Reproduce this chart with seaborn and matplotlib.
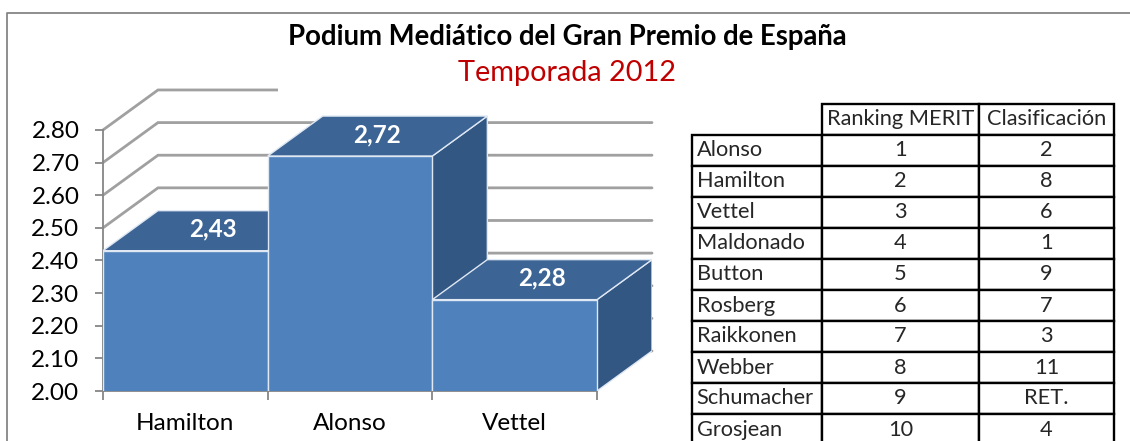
import matplotlib
matplotlib.use("Agg")
import matplotlib.pyplot as plt
from matplotlib.patches import Polygon, Rectangle
from matplotlib.lines import Line2D
import pandas as pd
import seaborn as sns

# -------------------------------
# Datos
# -------------------------------
pilotos = ["Hamilton", "Alonso", "Vettel"]
valores = [2.43, 2.72, 2.28]
y_ticks = [2.00, 2.10, 2.20, 2.30, 2.40, 2.50, 2.60, 2.70, 2.80]

tabla_pilotos = ["Alonso", "Hamilton", "Vettel", "Maldonado", "Button",
                 "Rosberg", "Raikkonen", "Webber", "Schumacher", "Grosjean"]
ranking_merit = ["1", "2", "3", "4", "5", "6", "7", "8", "9", "10"]
clasificacion = ["2", "8", "6", "1", "9", "7", "3", "11", "RET.", "4"]
columnas = ["", "Ranking MERIT", "Clasificación"]

titulo = "Podium Mediático del Gran Premio de España"
subtitulo = "Temporada 2012"

# colores estilo Excel
C_FRONT = "#4f81bd"
C_TOP = "#3c6494"
C_SIDE = "#335783"
C_EDGE = "#dfe8f3"
C_GRID = "#a0a0a0"
C_AXIS = "#868686"

# profundidad del efecto 3D (en unidades de datos)
DX, DY = 0.334, 0.1226

sns.set_theme(style="white")
plt.rcParams["font.family"] = ["Lato", "DejaVu Sans"]

W, H = 1130, 441
fig = plt.figure(figsize=(W / 100, H / 100), dpi=100)


def caja(x0, y0, x1, y1):
    # caja en pixeles -> coordenadas de figura
    return [x0 / W, 1 - y1 / H, (x1 - x0) / W, (y1 - y0) / H]


# -------------------------------
# Grafico de barras
# -------------------------------
ax = fig.add_axes(caja(103, 88, 652, 391))
df = pd.DataFrame({"piloto": pilotos, "valor": valores})
sns.barplot(data=df, x="piloto", y="valor", color=C_FRONT, saturation=1,
            width=1.0, edgecolor=C_EDGE, linewidth=1.0, ax=ax)

y0 = y_ticks[0]
ax.set_xlim(-0.5, len(pilotos) - 0.5 + DX)
ax.set_ylim(y0, y_ticks[-1] + DY + 0.006)

# caras frontales encima de las laterales de la barra anterior
for i, p in enumerate(ax.patches):
    p.set_zorder(5 + 3 * i)

# paredes: lineas de cuadricula
for v in y_ticks:
    ax.plot([-0.5, -0.5 + DX, len(pilotos) - 0.5 + DX], [v, v + DY, v + DY],
            color=C_GRID, lw=2.0, zorder=1, clip_on=False,
            solid_joinstyle="miter")

# caras superiores y laterales
for i, v in enumerate(valores):
    top = Polygon([(i - 0.5, v), (i + 0.5, v), (i + 0.5 + DX, v + DY),
                   (i - 0.5 + DX, v + DY)], closed=True, fc=C_TOP,
                  ec=C_EDGE, lw=1.0, zorder=3 + 3 * i)
    side = Polygon([(i + 0.5, y0), (i + 0.5, v), (i + 0.5 + DX, v + DY),
                    (i + 0.5 + DX, y0 + DY)], closed=True, fc=C_SIDE,
                   ec=C_EDGE, lw=1.0, zorder=3 + 3 * i)
    ax.add_patch(side)
    ax.add_patch(top)
    ax.text(i + DX / 2, v + DY / 2 + 0.005, f"{v:.2f}".replace(".", ","),
            color="white", fontweight="bold", fontsize=17.5,
            ha="center", va="center", zorder=30)

for s in ["top", "right"]:
    ax.spines[s].set_visible(False)
ax.spines["left"].set_bounds(y0, y_ticks[-1])
ax.spines["bottom"].set_bounds(-0.5, len(pilotos) - 0.5)
for s in ["left", "bottom"]:
    ax.spines[s].set_color(C_AXIS)
    ax.spines[s].set_linewidth(1.3)

ax.set_yticks(y_ticks)
ax.set_yticklabels([f"{v:.2f}" for v in y_ticks])
ax.set_xticks([i - 0.5 for i in range(len(pilotos) + 1)])
ax.set_xticklabels([])
ax.set_xticks(range(len(pilotos)), minor=True)
ax.set_xticklabels(pilotos, minor=True)
ax.tick_params(axis="y", left=True, length=6, width=1.3, color=C_AXIS,
               pad=11, labelsize=17.5, labelcolor="black")
ax.tick_params(axis="x", which="major", bottom=True, length=6.5, width=1.3,
               color=C_AXIS)
ax.tick_params(axis="x", which="minor", bottom=True, length=0, pad=16,
               labelsize=17.5, labelcolor="black")
ax.set_xlabel("")
ax.set_ylabel("")
ax.patch.set_alpha(0)

# -------------------------------
# Titulo y marco
# -------------------------------
fig.add_artist(Rectangle((278 / W, 1 - 97 / H), (860 - 278) / W, (97 - 15) / H,
                         transform=fig.transFigure, fc="white", ec="none",
                         zorder=5))
fig.text(567 / W, 1 - 37 / H, titulo, ha="center", va="center",
         fontsize=19.8, fontweight="bold", color="black", zorder=6)
fig.text(567 / W, 1 - 73 / H, subtitulo, ha="center", va="center",
         fontsize=20.8, color="#c00000", zorder=6)
fig.add_artist(Line2D([6.5 / W, 6.5 / W, 1.0], [0.0, 1 - 12.5 / H, 1 - 12.5 / H],
                      transform=fig.transFigure, color=C_AXIS, lw=1.3))

# -------------------------------
# Tabla
# -------------------------------
ax_t = fig.add_axes(caja(692, 104, 1114, 445))
ax_t.axis("off")
filas = [[n, r, c] for n, r, c in zip(tabla_pilotos, ranking_merit, clasificacion)]
tab = ax_t.table(cellText=filas, colLabels=columnas, cellLoc="center",
                 colWidths=[130 / 422, 157 / 422, 135 / 422], bbox=[0, 0, 1, 1])
tab.auto_set_font_size(False)
tab.set_fontsize(15.7)
for (r, c), cell in tab.get_celld().items():
    cell.set_edgecolor("black")
    cell.set_linewidth(1.7)
    cell.set_facecolor("white")
    if r == 0 and c == 0:
        cell.visible_edges = ""
    if c == 0 and r > 0:
        cell._loc = "left"
        cell.PAD = 0.035
        cell.get_text().set_horizontalalignment("left")

fig.savefig("out.png", dpi=100)
